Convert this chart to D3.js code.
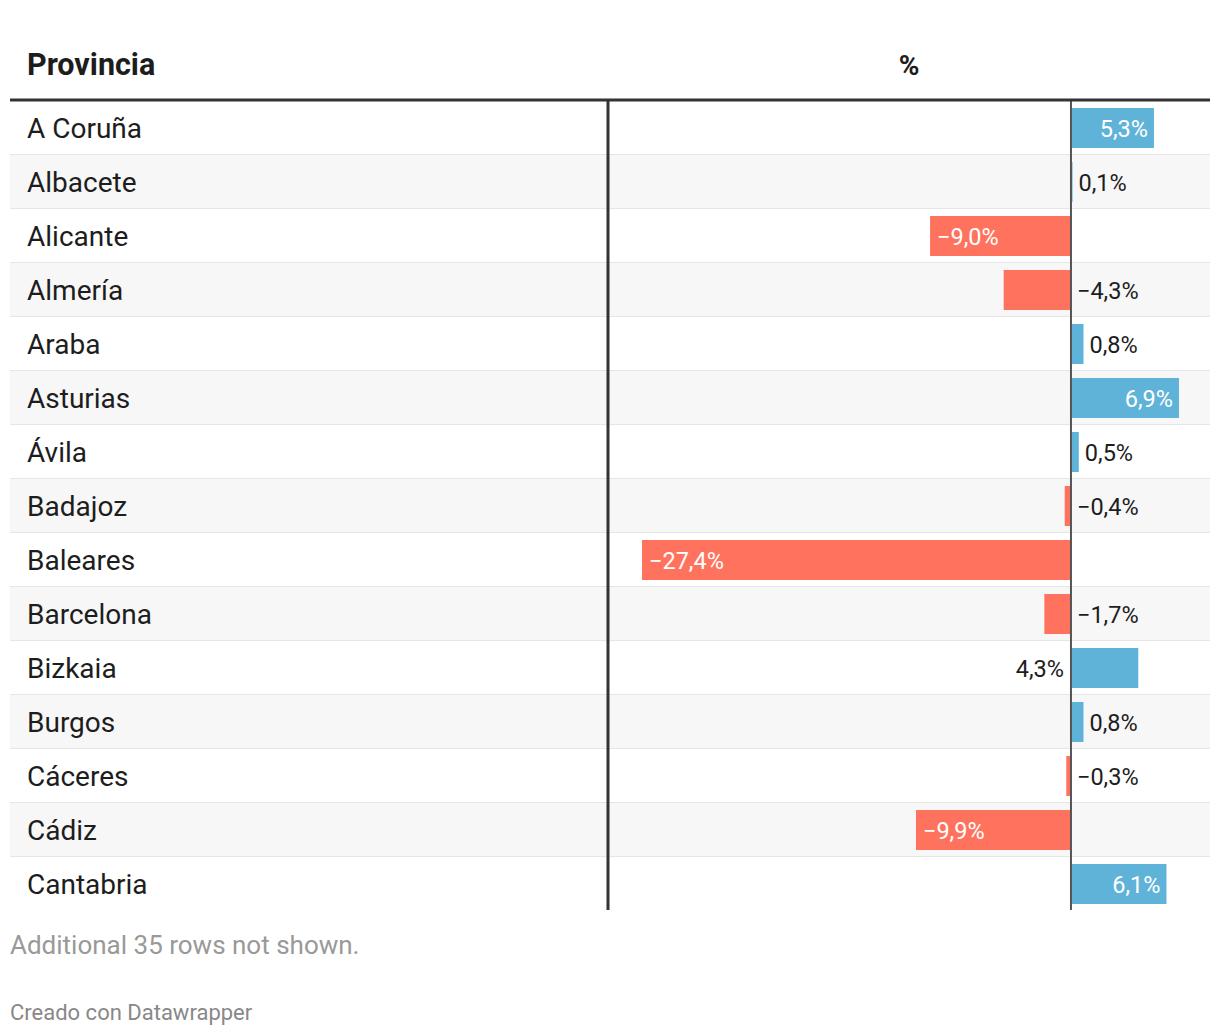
<!DOCTYPE html>
<html><head><meta charset="utf-8">
<script src="https://cdn.jsdelivr.net/npm/d3@7"></script>
<style>body{margin:0;background:#fff;font-family:Roboto,sans-serif}</style>
</head><body>
<svg id="c" width="1220" height="1036"></svg>
<script>
const provinces = ["A Coruña","Albacete","Alicante","Almería","Araba","Asturias","Ávila","Badajoz","Baleares","Barcelona","Bizkaia","Burgos","Cáceres","Cádiz","Cantabria"];
const values = [5.3,0.1,-9.0,-4.3,0.8,6.9,0.5,-0.4,-27.4,-1.7,4.3,0.8,-0.3,-9.9,6.1];
const headers = ["Provincia","%"];
const note = "Additional 35 rows not shown.";
const credit = "Creado con Datawrapper";

const svg = d3.select("#c");
const left = 10, right = 1210, colX = 608, headY = 100, rowH = 54;
const fmt = v => (v < 0 ? "\u2212" : "") + Math.abs(v).toFixed(1).replace(".", ",") + "%";

const x = d3.scaleLinear().domain([-27.4, 6.9]).range([642, 1179]);
const y = d3.scaleBand().domain(provinces).range([headY + 1, headY + 1 + rowH * provinces.length]);

// header
svg.append("text").attr("x", 27).attr("y", 75).text(headers[0])
  .attr("font-size", 30.5).attr("font-weight", 700).attr("fill", "#1d1d1d");
svg.append("text").attr("x", (colX + right) / 2).attr("y", 75).text(headers[1])
  .attr("text-anchor", "middle").attr("font-size", 28).attr("font-weight", 700).attr("fill", "#1d1d1d");

const rows = svg.append("g").selectAll("g").data(provinces).join("g");
rows.append("rect").attr("x", left).attr("width", right - left)
  .attr("y", d => y(d)).attr("height", rowH)
  .attr("fill", (d, i) => i % 2 ? "#f7f7f7" : "#ffffff");
rows.filter((d, i) => i < provinces.length - 1).append("rect").attr("x", left).attr("width", right - left)
  .attr("y", d => y(d) + rowH - 1).attr("height", 2).attr("fill", "#e6e6e6");
rows.append("text").attr("x", 27).attr("y", d => y(d) + rowH / 2 + 10)
  .text(d => d).attr("font-size", 28).attr("fill", "#1d1d1d");

// bars
const x0 = x(0);
provinces.forEach((p, i) => {
  const v = values[i];
  const bx = Math.min(x(v), x0), bw = Math.abs(x(v) - x0);
  svg.append("rect").attr("x", bx).attr("y", y(p) + 7).attr("width", bw).attr("height", rowH - 14)
    .attr("fill", v >= 0 ? "#5fb3d9" : "#ff735e");
  const label = fmt(v);
  const t = svg.append("text").attr("y", y(p) + rowH / 2 + 8.5).attr("font-size", 23.5).text(label);
  const lw = t.node().getComputedTextLength();
  if (bw > lw + 20) {
    t.attr("fill", "#fff");
    if (v >= 0) t.attr("x", x(v) - 6).attr("text-anchor", "end");
    else t.attr("x", x(v) + 7);
  } else {
    t.attr("fill", "#1d1d1d");
    if (v < 0) t.attr("x", x0 + 6);
    else if (v >= 4) t.attr("x", x0 - 7).attr("text-anchor", "end");
    else t.attr("x", x(v) + 6);
  }
});

const yEnd = headY + 1 + rowH * provinces.length - 1;
// zero line
svg.append("line").attr("x1", x0).attr("x2", x0).attr("y1", headY).attr("y2", yEnd)
  .attr("stroke", "#555").attr("stroke-width", 2);
// column divider
svg.append("line").attr("x1", colX).attr("x2", colX).attr("y1", headY).attr("y2", yEnd)
  .attr("stroke", "#333").attr("stroke-width", 3);
// header rule
svg.append("line").attr("x1", left).attr("x2", right).attr("y1", headY).attr("y2", headY)
  .attr("stroke", "#333").attr("stroke-width", 3);

svg.append("text").attr("x", 10).attr("y", 954).text(note).attr("font-size", 26).attr("fill", "#999");
svg.append("text").attr("x", 10).attr("y", 1020).text(credit).attr("font-size", 22).attr("fill", "#888");
</script>
</body></html>
